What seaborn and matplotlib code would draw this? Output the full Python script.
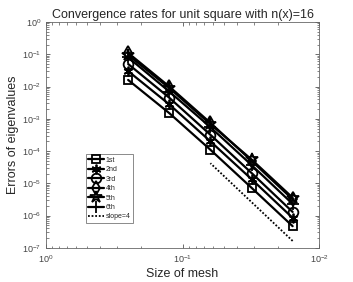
import numpy as np
import pandas as pd
import seaborn as sns
import matplotlib
matplotlib.use("Agg")
import matplotlib.pyplot as plt

# mesh sizes and eigenvalue errors
mesh = [1/4, 1/8, 1/16, 1/32, 1/64]
err_1st = [1.6e-2, 1.5e-3, 1.1e-4, 7.3e-6, 4.7e-7]
err_2nd = [3.0e-2, 2.8e-3, 2.0e-4, 1.35e-5, 8.5e-7]
err_3rd = [5.0e-2, 4.5e-3, 3.2e-4, 2.1e-5, 1.3e-6]
err_4th = [1.1e-1, 1.0e-2, 7.5e-4, 5.0e-5, 3.2e-6]
err_5th = [9.5e-2, 9.0e-3, 6.8e-4, 5.5e-5, 3.6e-6]
err_6th = [8.0e-2, 7.0e-3, 5.5e-4, 3.7e-5, 2.3e-6]
names = ["1st", "2nd", "3rd", "4th", "5th", "6th"]
markers = ["s", (6, 2, 0), "o", "d", "*", "+"]
msizes = [6, 7, 7, 7, 9, 8]

slope_x = [1/16, 1/64]
slope_y = [4.2e-5, 4.2e-5 / 4**4]

sns.set_style("ticks")
plt.rcParams['font.family'] = ['Liberation Sans', 'DejaVu Sans']

fig = plt.figure(figsize=(3.53, 2.82), dpi=100)
ax = fig.add_axes([0.130, 0.121, 0.774, 0.801])

errs = [err_1st, err_2nd, err_3rd, err_4th, err_5th, err_6th]
for name, e, m, ms in zip(names, errs, markers, msizes):
    df = pd.DataFrame({"h": mesh, "err": e})
    sns.lineplot(data=df, x="h", y="err", ax=ax, color="black", lw=1.6,
                 marker=m, markersize=ms, markerfacecolor="none",
                 markeredgecolor="black", markeredgewidth=1.3, label=name)

sns.lineplot(x=slope_x, y=slope_y, ax=ax, color="black", lw=1.3,
             linestyle=(0, (1, 1)), label="slope=4")

ax.set_xscale("log")
ax.set_yscale("log")
ax.set_xlim(1, 1e-2)
ax.set_ylim(1e-7, 1)
ax.set_yticks([10.0**k for k in range(-7, 1)])
ax.set_xticks([1, 1e-1, 1e-2])
ax.tick_params(which="both", direction="in", top=True, right=True,
               labelsize=6.5, colors="#555555", labelcolor="#444444")
ax.tick_params(which="major", length=3, width=0.6)
ax.tick_params(which="minor", length=1.8, width=0.5)
ax.tick_params(axis="x", pad=4)
for s in ax.spines.values():
    s.set_color("#666666")
    s.set_linewidth(0.6)

ax.set_title("Convergence rates for unit square with n(x)=16", fontsize=9, pad=3)
ax.set_xlabel("Size of mesh", fontsize=9, labelpad=2)
ax.set_ylabel("Errors of eigenvalues", fontsize=9, labelpad=2)

leg = ax.legend(loc="upper left", bbox_to_anchor=(0.145, 0.415), fontsize=5,
                frameon=True, fancybox=False, edgecolor="#555555",
                borderpad=0.4, labelspacing=0.35, handlelength=2.2,
                handletextpad=0.3, borderaxespad=0)
leg.get_frame().set_linewidth(0.6)

fig.savefig("out.png", dpi=100)
